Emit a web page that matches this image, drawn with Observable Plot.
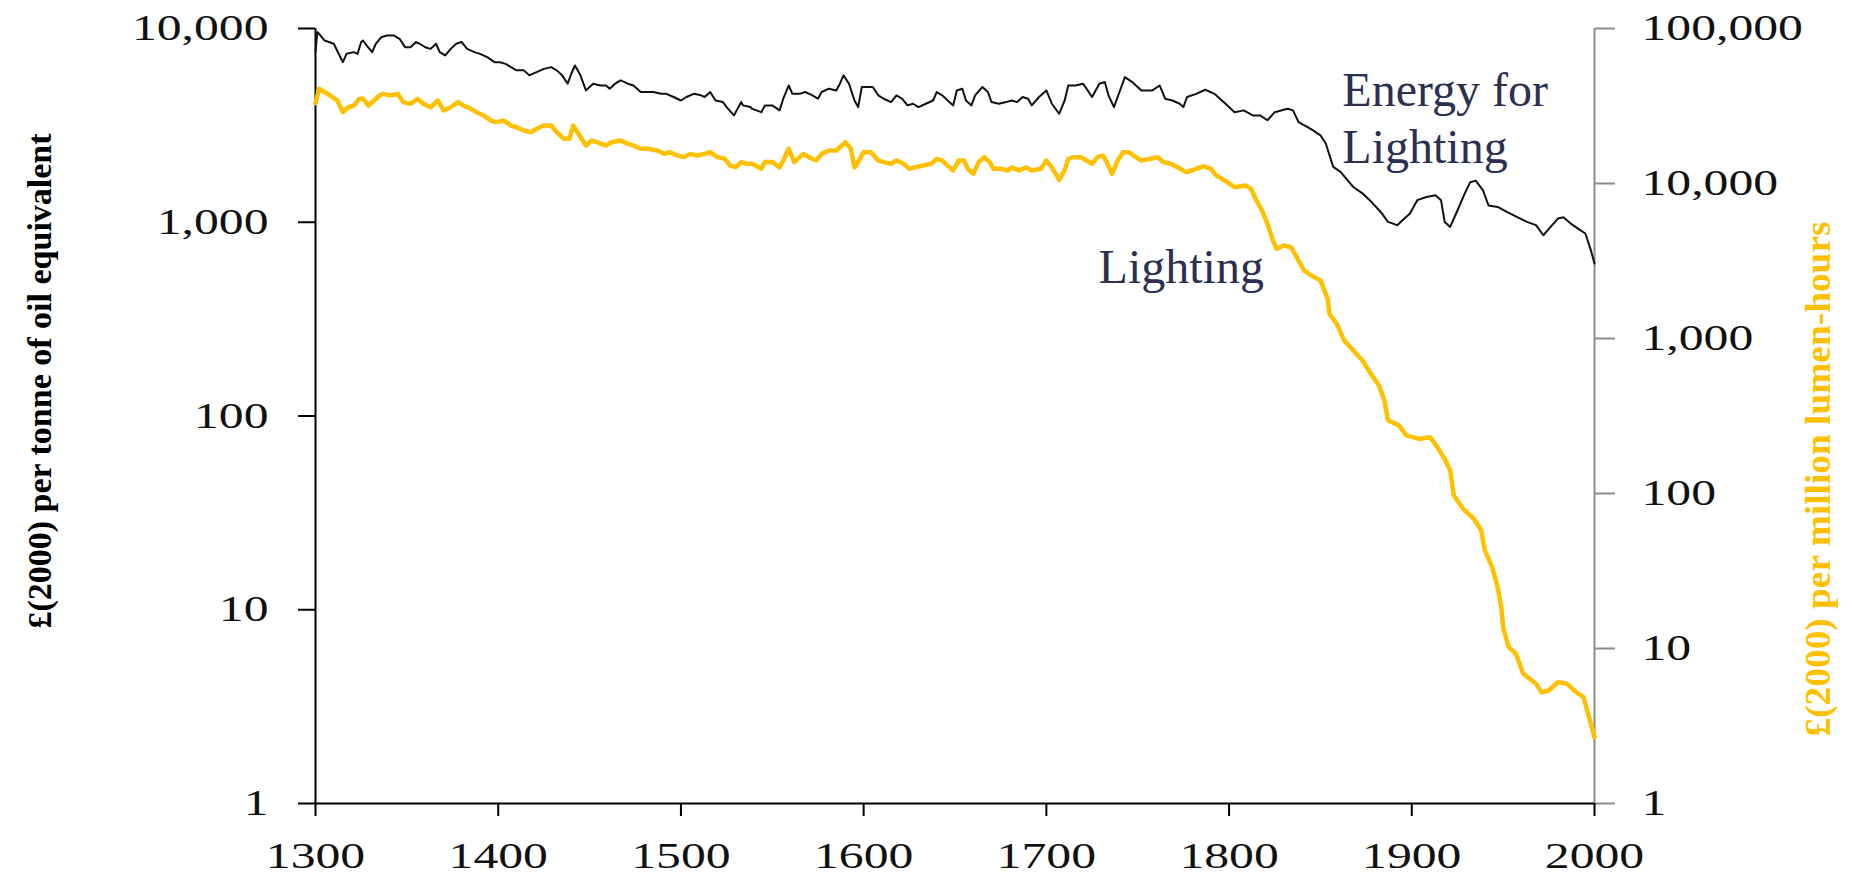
<!DOCTYPE html>
<html>
<head>
<meta charset="utf-8">
<script src="https://cdn.jsdelivr.net/npm/d3@7"></script>
<script src="https://cdn.jsdelivr.net/npm/@observablehq/plot@0.6"></script>
<style>
  html, body { margin: 0; padding: 0; background: #fff; overflow: hidden; }
  #chart { width: 1852px; height: 877px; }
</style>
</head>
<body>
<div id="chart"></div>
<script>
// ---- Data ----
const energyYears = [1300,1301,1302,1305,1310,1315,1317,1321,1323,1325,1326,1328,1331,1333,1336,1339,1343,1346,1349,1352,1355,1357,1360,1363,1366,1368,1371,1374,1377,1380,1383,1387,1390,1394,1398,1401,1404,1407,1410,1414,1417,1421,1425,1429,1432,1435,1438,1440,1442,1445,1448,1450,1452,1456,1459,1461,1464,1467,1471,1474,1478,1482,1485,1489,1492,1496,1500,1503,1507,1511,1513,1516,1519,1523,1525,1529,1531,1533,1534,1538,1539,1544,1546,1550,1554,1556,1559,1561,1565,1568,1572,1575,1577,1581,1585,1587,1589,1592,1595,1597,1599,1602,1605,1608,1611,1615,1618,1621,1624,1627,1630,1634,1638,1640,1643,1646,1649,1651,1654,1656,1659,1661,1665,1668,1670,1674,1678,1681,1684,1687,1690,1692,1696,1700,1703,1707,1710,1712,1716,1720,1722,1725,1729,1732,1734,1737,1740,1743,1747,1752,1754,1758,1762,1765,1769,1773,1775,1777,1782,1787,1792,1797,1803,1808,1813,1817,1821,1825,1832,1835,1838,1843,1846,1850,1853,1855,1857,1861,1865,1868,1873,1877,1883,1887,1892,1896,1899,1903,1908,1913,1916,1918,1921,1925,1929,1932,1935,1939,1942,1947,1952,1958,1963,1968,1972,1976,1980,1983,1987,1991,1995,1998,2000];
const energyPrice = [7600,9580,9390,8670,8340,6700,7400,7550,7400,8510,8670,8170,7550,8340,9020,9200,9200,8850,8010,8010,8510,8340,8010,7850,8340,7550,7260,7850,8340,8510,7850,7550,7400,7110,6700,6700,6570,6320,6080,6080,5730,5960,6190,6320,6080,5730,5190,5840,6440,5730,4790,4990,5190,5080,5080,4890,5190,5400,5190,5080,4700,4700,4700,4600,4600,4430,4250,4430,4600,4520,4430,4700,4250,4170,3930,3560,3850,4170,4010,3930,3850,3700,4010,4010,3780,4340,5080,4600,4600,4700,4520,4340,4700,4890,4790,5190,5730,5190,4250,3930,4990,4990,4990,4520,4340,4170,4520,4340,4010,4090,3930,4090,4250,4700,4520,4250,4010,4790,4890,4250,4010,4520,4990,4700,4170,4090,4170,4250,4170,4430,4340,4010,4430,4790,4090,3630,4250,5080,5080,5190,4890,4430,5190,5290,4520,3930,4700,5610,5290,4790,4790,4790,5080,4340,4250,4090,3930,4430,4600,4830,4600,4170,3700,3780,3560,3560,3360,3700,3850,3780,3290,3100,2980,2810,2540,2210,1930,1820,1640,1520,1410,1300,1130,1004,966,1045,1110,1300,1350,1380,1300,1004,946,1150,1410,1610,1640,1460,1220,1200,1130,1060,1004,966,857,946,1045,1060,984,927,875,718,612];

const lightingYears = [1300,1302,1305,1308,1312,1315,1318,1321,1324,1326,1329,1332,1335,1337,1341,1345,1348,1352,1356,1359,1363,1367,1370,1374,1378,1381,1385,1388,1392,1396,1399,1403,1407,1410,1414,1418,1421,1425,1429,1432,1436,1439,1441,1444,1448,1451,1454,1459,1462,1467,1471,1474,1478,1482,1487,1491,1494,1498,1502,1505,1509,1513,1516,1520,1524,1527,1530,1533,1536,1539,1544,1546,1550,1554,1556,1559,1562,1565,1567,1570,1574,1577,1581,1585,1587,1590,1593,1595,1597,1600,1604,1608,1611,1615,1618,1622,1625,1628,1632,1637,1640,1643,1647,1649,1652,1655,1657,1660,1663,1666,1669,1671,1675,1679,1681,1685,1689,1692,1697,1700,1703,1707,1710,1712,1715,1719,1722,1725,1728,1731,1733,1736,1739,1742,1745,1749,1752,1757,1761,1764,1768,1772,1775,1777,1782,1786,1790,1793,1799,1803,1809,1812,1815,1818,1821,1824,1826,1830,1834,1837,1841,1845,1850,1854,1855,1859,1863,1868,1873,1877,1882,1885,1887,1893,1897,1904,1910,1914,1918,1921,1923,1928,1934,1938,1940,1944,1947,1949,1950,1953,1957,1961,1968,1971,1975,1980,1985,1990,1994,1997,2000];
const lightingPrice = [33000,40850,38840,36980,34300,28840,31050,31850,35160,35160,31850,34300,36980,37880,36980,37880,33500,32680,35160,32680,31050,34300,29580,31050,33500,31850,30340,28840,27480,25480,24880,25480,23660,23070,21980,21430,22540,23660,23660,21430,19410,19410,23660,20890,17580,18920,18480,17580,18480,18920,18030,17580,16750,16750,16330,15530,15920,15170,14790,15530,15170,15530,15920,14790,14430,13060,12740,13740,13400,13400,12450,13740,13740,12710,14060,16750,13740,14790,15530,14790,14060,15530,16330,16330,17140,18480,16750,12710,13740,15920,15920,14060,13740,13400,14060,13400,12450,12710,13010,13400,14430,14060,12710,12140,14060,14060,12450,11540,13740,14790,13740,12450,12450,12140,12710,12140,12710,12140,12450,14060,12710,10570,12140,14430,14790,14790,14060,13400,14790,15170,13740,11540,14060,15920,15920,14790,14060,14430,14790,13740,13400,12710,12140,11830,12450,12880,12450,11270,10200,9470,9710,9240,7770,6700,5500,4290,3790,3980,3880,3350,2750,2550,2370,1800,1440,1240,970,837,721,607,498,398,296,275,237,225,231,199,167,141,97,80,68.7,57.7,42.9,33.5,24.9,18.5,13.7,10.2,9.25,6.87,5.92,5.22,5.36,6.07,5.92,5.22,4.85,3.61,2.68];

const xTicks = [1300,1400,1500,1600,1700,1800,1900,2000];
const leftTicks = [1,10,100,1000,10000];
const rightTicks = [1,10,100,1000,10000,100000];

const leftTitle = "£(2000) per tonne of oil equivalent";
const rightTitle = "£(2000) per million lumen-hours";
const energyLabel = "Energy for\nLighting";
const lightingLabel = "Lighting";

// ---- Build tables ----
// The y scale is linear in decades of the left axis (1 … 10,000 = 4 decades).
// The right axis covers 5 decades (1 … 100,000) over the same height.
const leftPos = v => Math.log10(v);
const rightPos = v => Math.log10(v) * 4 / 5;
const energy = energyYears.map((y, i) => ({year: y, value: energyPrice[i]}));
const lighting = lightingYears.map((y, i) => ({year: y, value: lightingPrice[i]}));
const annotations = [
  {year: 1862, value: 3520, text: energyLabel},
  {year: 1728.6, value: 603, text: lightingLabel}
];

const fmt = d3.format(",");
const serif = "'Liberation Serif', 'Times New Roman', Times, serif";

const chart = Plot.plot({
  width: 1852,
  height: 877,
  marginLeft: 315,
  marginRight: 258,
  marginTop: 28,
  marginBottom: 74,
  style: {fontFamily: serif, fontSize: "36px", color: "#111", background: "#fff", overflow: "visible"},
  x: {domain: [1300, 2000]},
  y: {type: "linear", domain: [0, 4]},
  marks: [
    Plot.ruleX([2000], {stroke: "#8c8c8c", strokeWidth: 2}),
    Plot.axisY({anchor: "right", ticks: rightTicks.map(rightPos),
      tickFormat: d => fmt(Math.round(Math.pow(10, d * 5 / 4))),
      tickSize: 20, tickPadding: 27, stroke: "#8c8c8c", strokeWidth: 2, fill: "#111", label: null}),
    Plot.axisY({anchor: "left", ticks: leftTicks.map(leftPos),
      tickFormat: d => fmt(Math.round(Math.pow(10, d))),
      tickSize: 17, tickPadding: 30, stroke: "#000", strokeWidth: 2, fill: "#111", label: null}),
    Plot.axisX({ticks: xTicks, tickFormat: d => String(d),
      tickSize: 13, tickPadding: 26, stroke: "#000", strokeWidth: 2, fill: "#111", label: null}),
    Plot.ruleX([1300], {stroke: "#000", strokeWidth: 2}),
    Plot.ruleY([0], {stroke: "#000", strokeWidth: 2}),
    Plot.line(lighting, {x: "year", y: d => rightPos(d.value), stroke: "#FFC000", strokeWidth: 4.5, strokeLinejoin: "round"}),
    Plot.line(energy, {x: "year", y: d => leftPos(d.value), stroke: "#111", strokeWidth: 2}),
    Plot.text(annotations, {x: "year", y: d => leftPos(d.value), text: "text", textAnchor: "start", fontSize: 48, lineHeight: 1.19, fill: "#2c2f50", fontFamily: serif}),
    Plot.text([leftTitle], {text: d => d, frameAnchor: "left", textAnchor: "middle", dx: -275, dy: -35, rotate: -90, fontSize: 34, fontWeight: "bold", fill: "#000", fontFamily: serif}),
    Plot.text([rightTitle], {text: d => d, frameAnchor: "right", textAnchor: "middle", dx: 224, dy: 63, rotate: -90, fontSize: 36, fontWeight: "bold", fill: "#FFC000", fontFamily: serif})
  ]
});

document.getElementById("chart").appendChild(chart);

// Tick labels in the reference are horizontally stretched: scale each about its anchor
const NS = "http://www.w3.org/2000/svg";
chart.querySelectorAll('g[aria-label$="tick label"] text').forEach(t => {
  const c = t.transform.baseVal.consolidate();
  const tx = (c ? c.matrix.e : 0) + (parseFloat(t.getAttribute("x")) || 0);
  const ty = (c ? c.matrix.f : 0) + (parseFloat(t.getAttribute("y")) || 0);
  const g = document.createElementNS(NS, "g");
  g.setAttribute("transform", `translate(${tx},${ty}) scale(1.38,1) translate(${-tx},${-ty})`);
  t.parentNode.insertBefore(g, t);
  g.appendChild(t);
});
// Right title spans a slightly longer run than its natural width
chart.querySelectorAll("text").forEach(t => {
  if (t.textContent === rightTitle) {
    t.setAttribute("textLength", 515);
    t.setAttribute("lengthAdjust", "spacingAndGlyphs");
  }
});
</script>
</body>
</html>
